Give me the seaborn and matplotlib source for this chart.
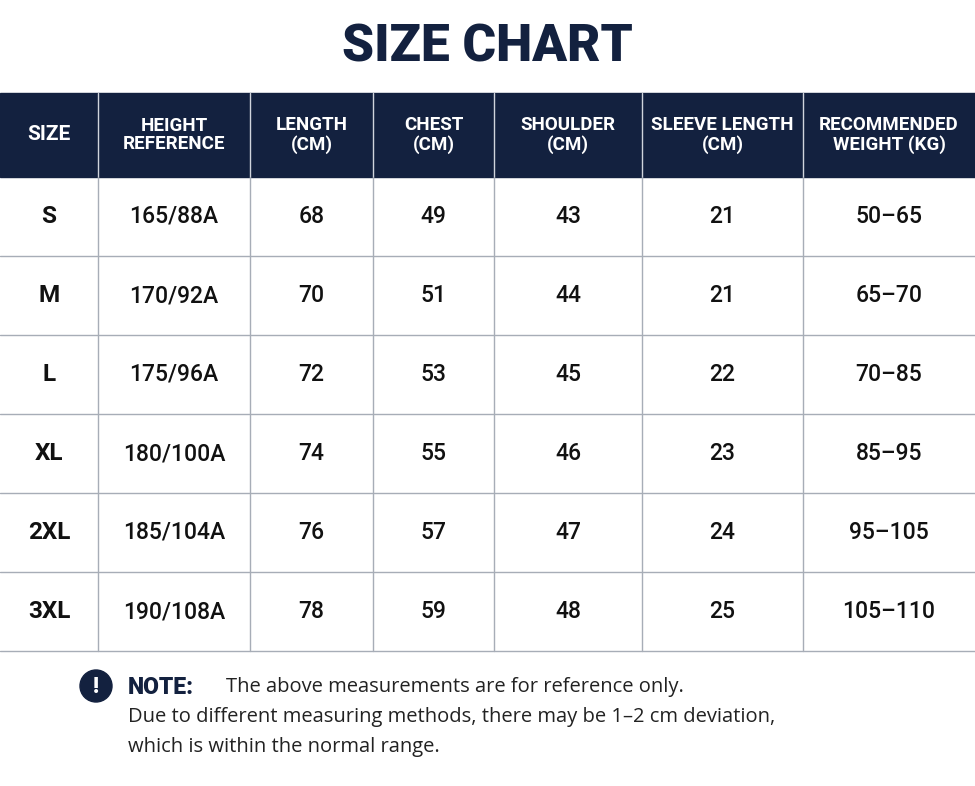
import matplotlib
matplotlib.use("Agg")
import matplotlib.pyplot as plt
import seaborn as sns
from matplotlib.patches import Rectangle, Circle

sns.set_theme(style="white")
plt.rcParams['font.family'] = ['Roboto', 'DejaVu Sans']

title = "SIZE CHART"
headers = ["SIZE", "HEIGHT\nREFERENCE", "LENGTH\n(CM)", "CHEST\n(CM)", "SHOULDER\n(CM)", "SLEEVE LENGTH\n(CM)", "RECOMMENDED\nWEIGHT (KG)"]
sizes = ["S", "M", "L", "XL", "2XL", "3XL"]
height_ref = ["165/88A", "170/92A", "175/96A", "180/100A", "185/104A", "190/108A"]
length = [68, 70, 72, 74, 76, 78]
chest = [49, 51, 53, 55, 57, 59]
shoulder = [43, 44, 45, 46, 47, 48]
sleeve = [21, 21, 22, 23, 24, 25]
weight = ["50–65", "65–70", "70–85", "85–95", "95–105", "105–110"]

col_edges = [0, 98, 250, 373, 494, 642, 803, 975]
header_top, header_bot = 93, 177
row_h = 79
navy = "#13213f"
grid = "#a7adb7"

fig = plt.figure(figsize=(9.75, 7.86), dpi=100)
ax = fig.add_axes([0, 0, 1, 1])
ax.set_xlim(0, 975); ax.set_ylim(786, 0); ax.axis("off")

ax.text(487, 48, title, ha="center", va="center", fontsize=37, fontweight="black", color=navy)

ax.add_patch(Rectangle((0, header_top), 975, header_bot - header_top, color=navy, zorder=1))
for i, h in enumerate(headers):
    cx = (col_edges[i] + col_edges[i + 1]) / 2
    ax.text(cx, (header_top + header_bot) / 2, h, ha="center", va="center", color="white",
            fontsize=13.5 if "\n" in h else 15, fontweight="bold", linespacing=1.05, zorder=3)
for x in col_edges[1:-1]:
    ax.plot([x, x], [header_top, header_bot], color="#d0d4dc", lw=1, zorder=2)

rows = list(zip(sizes, height_ref, length, chest, shoulder, sleeve, weight))
n = len(rows)
bottom = header_bot + n * row_h
for r, vals in enumerate(rows):
    cy = header_bot + r * row_h + row_h / 2
    for i, v in enumerate(vals):
        cx = (col_edges[i] + col_edges[i + 1]) / 2
        ax.text(cx, cy, str(v), ha="center", va="center", color="#111111",
                fontsize=17.5 if i == 0 else 16.5,
                fontweight="bold" if i == 0 else "medium")
for r in range(1, n + 1):
    y = header_bot + r * row_h
    ax.plot([0, 975], [y, y], color=grid, lw=1)
for x in col_edges[1:-1]:
    ax.plot([x, x], [header_bot, bottom], color=grid, lw=1)

ax.add_patch(Circle((96, 686), 16, color=navy))
ax.text(96, 687, "!", ha="center", va="center", color="white", fontsize=16, fontweight="black")
ax.text(128, 687, "NOTE:", ha="left", va="center", color=navy, fontsize=16.5, fontweight="black")
note_font = ['Open Sans', 'DejaVu Sans']
ax.text(226, 687, "The above measurements are for reference only.", ha="left", va="center",
        color="#222222", fontsize=14.5, family=note_font)
ax.text(128, 717, "Due to different measuring methods, there may be 1–2 cm deviation,", ha="left",
        va="center", color="#222222", fontsize=14.5, family=note_font)
ax.text(128, 747, "which is within the normal range.", ha="left", va="center",
        color="#222222", fontsize=14.5, family=note_font)

fig.savefig("out.png", dpi=100)
